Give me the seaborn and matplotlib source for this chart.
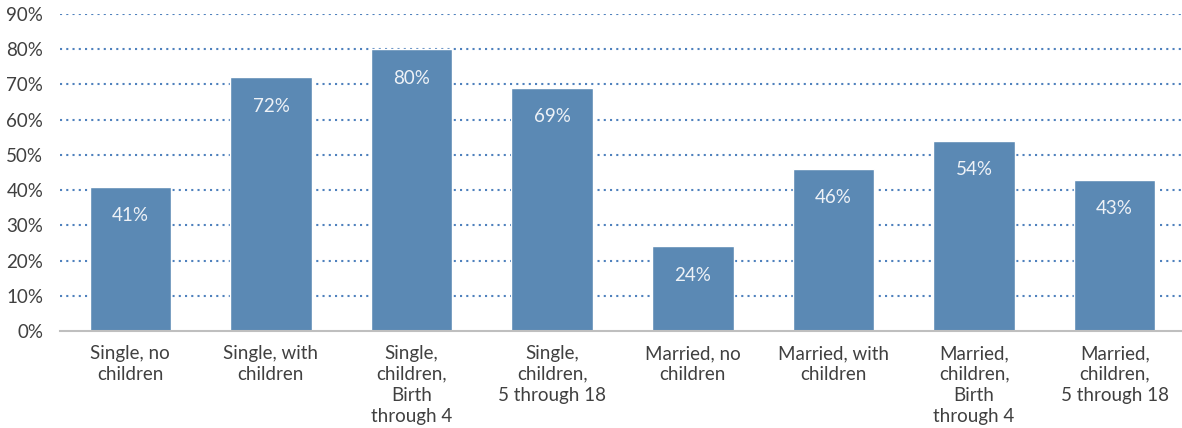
import seaborn as sns
import matplotlib.pyplot as plt
import pandas as pd
from matplotlib.ticker import MultipleLocator, FuncFormatter

# categories and shares
categories = ["Single, no\nchildren", "Single, with\nchildren", "Single,\nchildren,\nBirth\nthrough 4",
              "Single,\nchildren,\n5 through 18", "Married, no\nchildren", "Married, with\nchildren",
              "Married,\nchildren,\nBirth\nthrough 4", "Married,\nchildren,\n5 through 18"]
shares = [41, 72, 80, 69, 24, 46, 54, 43]
bar_labels = ["41%", "72%", "80%", "69%", "24%", "46%", "54%", "43%"]

sns.set_style("white")
plt.rcParams['font.family'] = ['Lato', 'DejaVu Sans']

df = pd.DataFrame({"Category": categories, "Share": shares})

fig = plt.figure(figsize=(11.82, 4.28), dpi=100)
ax = fig.add_axes([60 / 1182, 97 / 428, 1125 / 1182, 317 / 428])

sns.barplot(data=df, x="Category", y="Share", color="#5b89b4", saturation=1,
            width=0.58, ax=ax, zorder=3)

ax.set_ylim(0, 90)
ax.set_xlim(-0.5, len(categories) - 0.5)
ax.yaxis.set_major_locator(MultipleLocator(10))
ax.yaxis.set_major_formatter(FuncFormatter(lambda v, p: f"{v:.0f}%"))
ax.set_xlabel("")
ax.set_ylabel("")

# dotted horizontal gridlines (skip 0)
for v in range(10, 100, 10):
    ax.axhline(v, color="#4f81bd", linestyle=(0, (1, 2)), linewidth=1.5, zorder=1)

for s in ["top", "right", "left"]:
    ax.spines[s].set_visible(False)
ax.spines["bottom"].set_color("#bfbfbf")
ax.spines["bottom"].set_linewidth(1.5)
ax.spines["bottom"].set_zorder(4)

ax.tick_params(axis="both", length=0, labelsize=13.5, colors="#404040")
ax.tick_params(axis="y", pad=12)
ax.tick_params(axis="x", pad=10)
for t in ax.get_xticklabels():
    t.set_linespacing(1.28)

ax.bar_label(ax.containers[0], labels=bar_labels, padding=-27, color="#eef2f7", fontsize=13.5)

plt.savefig("out.png", dpi=100)
